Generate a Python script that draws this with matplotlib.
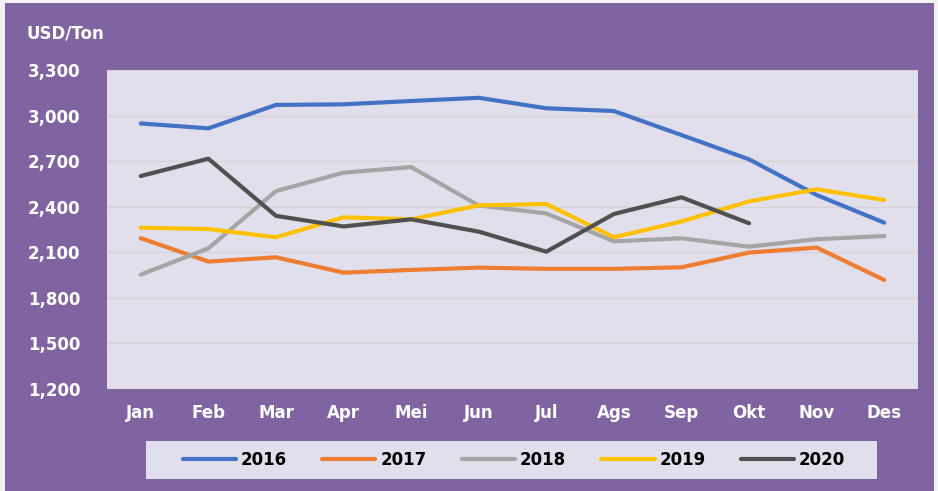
import matplotlib.pyplot as plt
from matplotlib.patches import Rectangle

# Monthly price (USD/Ton)
months = ['Jan', 'Feb', 'Mar', 'Apr', 'Mei', 'Jun', 'Jul', 'Ags', 'Sep', 'Okt', 'Nov', 'Des']
p2016 = [2948, 2916, 3070, 3074, 3096, 3117, 3048, 3030, 2872, 2712, 2477, 2295]
p2017 = [2193, 2039, 2067, 1966, 1984, 1999, 1991, 1991, 2001, 2098, 2131, 1918]
p2018 = [1953, 2126, 2503, 2624, 2661, 2408, 2356, 2172, 2192, 2137, 2186, 2207]
p2019 = [2262, 2253, 2199, 2330, 2317, 2409, 2418, 2199, 2303, 2435, 2515, 2444]
p2020 = [2602, 2716, 2340, 2270, 2317, 2236, 2104, 2352, 2462, 2291]

years = ['2016', '2017', '2018', '2019', '2020']
series = [p2016, p2017, p2018, p2019, p2020]
colors = ['#4472C4', '#ED7D31', '#A5A5A5', '#FFC000', '#505050']
yticks = [1200, 1500, 1800, 2100, 2400, 2700, 3000, 3300]

purple = '#8064A2'
panel = '#E2DFEC'

fig = plt.figure(figsize=(9.38, 4.91), dpi=100)
fig.patch.set_facecolor('#F2F2F2')
fig.patches.append(Rectangle((5 / 938, 0), 929 / 938, 488 / 491, transform=fig.transFigure,
                             facecolor=purple, edgecolor='none', zorder=-2))
# legend background box
fig.patches.append(Rectangle((146 / 938, 1 - 479 / 491), 731 / 938, 38 / 491, transform=fig.transFigure,
                             facecolor=panel, edgecolor='none', zorder=-1))

ax = fig.add_axes([107 / 938, 1 - 389 / 491, 811 / 938, 319 / 491])
ax.set_facecolor(panel)

x = list(range(len(months)))
for yr, vals, c in zip(years, series, colors):
    ax.plot(x[:len(vals)], vals, color=c, lw=3, label=yr, solid_capstyle='round', solid_joinstyle='round')

ax.set_xlim(-0.5, 11.5)
ax.set_ylim(1200, 3300)
ax.set_yticks(yticks)
ax.set_yticklabels([f'{v:,}' for v in yticks])
ax.set_xticks(x)
ax.set_xticklabels(months)
ax.grid(axis='y', color='#D6D3D8', lw=1)
ax.set_axisbelow(True)
for s in ax.spines.values():
    s.set_visible(False)
ax.tick_params(axis='y', length=0, pad=19, labelsize=12, labelcolor='white')
ax.tick_params(axis='x', length=0, pad=11, labelsize=12, labelcolor='white')
for lbl in ax.get_xticklabels() + ax.get_yticklabels():
    lbl.set_fontweight('bold')

fig.text(26 / 938, 1 - 33 / 491, 'USD/Ton', color='white', fontsize=12, fontweight='bold', va='center')

leg = fig.legend(loc='center', bbox_to_anchor=(514 / 938, 1 - 460 / 491), ncol=5, frameon=False,
                 handlelength=3.2, handletextpad=0.3, columnspacing=2.1,
                 prop={'weight': 'bold', 'size': 12})

fig.savefig('out.png', dpi=100, facecolor=fig.get_facecolor())
